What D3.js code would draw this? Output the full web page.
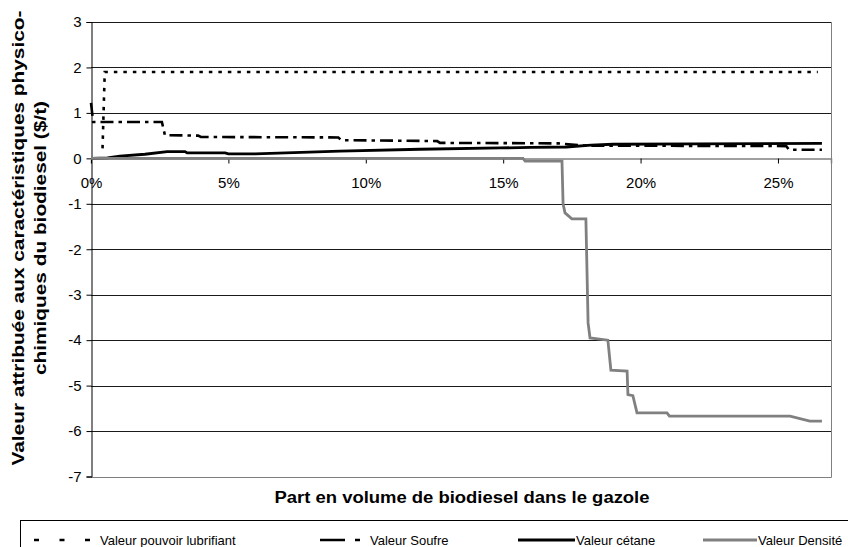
<!DOCTYPE html>
<html>
<head>
<meta charset="utf-8">
<script src="https://cdn.jsdelivr.net/npm/d3@7"></script>
<style>
  html, body { margin: 0; padding: 0; background: #fff; }
  svg { display: block; font-family: "Liberation Sans", Arial, sans-serif; }
</style>
</head>
<body>
<svg id="chart" width="848" height="547"></svg>
<script>
// Part en volume de biodiesel (%) et valeur attribuée ($/t), par caractéristique
const pctLubrifiant = [0.42, 0.5, 26.45];
const valLubrifiant = [0.22, 1.9, 1.9];

const pctSoufre = [0, 0.08, 2.58, 2.69, 3.9, 4.0, 9.0, 9.1, 12.6, 12.7, 17.0, 17.9, 25.3, 25.4, 26.6];
const valSoufre = [1.22, 0.8, 0.8, 0.51, 0.5, 0.47, 0.46, 0.4, 0.38, 0.34, 0.33, 0.28, 0.27, 0.19, 0.19];

const pctCetane = [0, 0.6, 1.05, 1.96, 2.77, 3.42, 3.5, 4.88, 5.0, 5.97, 9.06, 11.97, 14.9, 16.0, 17.3, 18.2, 19.0, 22.0, 26.6];
const valCetane = [0, 0.01, 0.05, 0.09, 0.15, 0.15, 0.12, 0.12, 0.1, 0.1, 0.16, 0.2, 0.23, 0.24, 0.25, 0.29, 0.31, 0.32, 0.33];

const pctDensite = [0, 15.72, 15.8, 17.14, 17.18, 17.25, 17.5, 18.01, 18.09, 18.16, 18.81, 18.92, 19.51, 19.54, 19.72, 19.87, 20.96, 21.05, 25.44, 26.16, 26.6];
const valDensite = [0, 0, -0.06, -0.06, -1.0, -1.2, -1.33, -1.33, -3.62, -3.95, -4.0, -4.66, -4.68, -5.2, -5.22, -5.6, -5.6, -5.67, -5.67, -5.78, -5.78];

const xTicks = [0, 5, 10, 15, 20, 25];
const yTicks = [3, 2, 1, 0, -1, -2, -3, -4, -5, -6, -7];

const seriesNames = ["Valeur pouvoir lubrifiant", "Valeur Soufre", "Valeur cétane", "Valeur Densité"];

const svg = d3.select("#chart");
const plotLeft = 91, plotRight = 831, plotTop = 22, plotBottom = 476.5;

const x = d3.scaleLinear().domain([0, 26.93]).range([plotLeft, plotRight]);
const y = d3.scaleLinear().domain([-7, 3]).range([plotBottom, plotTop]);

// horizontal gridlines
svg.append("g").selectAll("line").data(yTicks.filter(v => v !== 0 && v !== -7))
  .join("line")
  .attr("x1", plotLeft).attr("x2", plotRight)
  .attr("y1", d => Math.round(y(d)) + 0.5).attr("y2", d => Math.round(y(d)) + 0.5)
  .attr("stroke", "#1a1a1a").attr("stroke-width", 1);

// plot frame (right and bottom)
svg.append("path")
  .attr("d", `M${plotRight + 0.5},${plotTop}V${Math.round(plotBottom) + 0.5}H${plotLeft}`)
  .attr("fill", "none").attr("stroke", "#808080").attr("stroke-width", 1);

// y axis
const yAxis = d3.axisLeft(y).tickValues(yTicks).tickSize(5).tickPadding(5).tickFormat(d => String(d));
svg.append("g").attr("transform", `translate(${plotLeft + 0.5},0)`).call(yAxis)
  .call(g => g.select(".domain").attr("stroke", "#000"))
  .call(g => g.selectAll(".tick text").attr("font-size", 15).attr("fill", "#000").attr("font-family", "Liberation Sans, Arial, sans-serif"));

// x axis crossing at zero
const xAxis = d3.axisBottom(x).tickValues(xTicks).tickSize(5).tickPadding(14).tickFormat(d => d + "%");
svg.append("g").attr("transform", `translate(0,${Math.round(y(0)) + 0.5})`).call(xAxis)
  .call(g => g.select(".domain").attr("stroke", "#808080").attr("stroke-width", 1.5))
  .call(g => g.selectAll(".tick line").attr("stroke", "#000"))
  .call(g => g.selectAll(".tick text").attr("font-size", 15).attr("fill", "#000").attr("font-family", "Liberation Sans, Arial, sans-serif"));

const line = d3.line().x(d => x(d[0])).y(d => y(d[1]));
const zip = (a, b) => a.map((v, i) => [v, b[i]]);

const series = [
  { pts: zip(pctLubrifiant, valLubrifiant), color: "#000", dash: "3.5,6", width: 2.6 },
  { pts: zip(pctSoufre, valSoufre), color: "#000", dash: "13,5,3.5,5", width: 2.6 },
  { pts: zip(pctCetane, valCetane), color: "#000", dash: null, width: 2.8 },
  { pts: zip(pctDensite, valDensite), color: "#808080", dash: null, width: 2.8 }
];

svg.append("g").selectAll("path").data(series).join("path")
  .attr("d", d => line(d.pts))
  .attr("fill", "none")
  .attr("stroke", d => d.color)
  .attr("stroke-width", d => d.width)
  .attr("stroke-dasharray", d => d.dash)
  .attr("stroke-linejoin", "miter");

// axis titles
svg.append("text")
  .attr("x", 462).attr("y", 503)
  .attr("text-anchor", "middle")
  .attr("font-size", 16).attr("font-weight", "bold")
  .attr("textLength", 375).attr("lengthAdjust", "spacingAndGlyphs")
  .text("Part en volume de biodiesel dans le gazole");

const yTitle = svg.append("g").attr("transform", "translate(0,238) rotate(-90)");
yTitle.append("text")
  .attr("x", 0).attr("y", 24)
  .attr("text-anchor", "middle")
  .attr("font-size", 16).attr("font-weight", "bold")
  .attr("textLength", 455).attr("lengthAdjust", "spacingAndGlyphs")
  .text("Valeur attribuée aux caractéristiques physico-");
yTitle.append("text")
  .attr("x", 0).attr("y", 46)
  .attr("text-anchor", "middle")
  .attr("font-size", 16).attr("font-weight", "bold")
  .attr("textLength", 274).attr("lengthAdjust", "spacingAndGlyphs")
  .text("chimiques du biodiesel ($/t)");

// legend
const legend = svg.append("g");
legend.append("rect")
  .attr("x", 20.5).attr("y", 520.5).attr("width", 860).attr("height", 60)
  .attr("fill", "#fff").attr("stroke", "#000").attr("stroke-width", 1);

const legendItems = [
  { x0: 34, x1: 90, tx: 100, color: "#000", dash: "5,20.5", width: 2.6 },
  { x0: 320, x1: 362, tx: 370, color: "#000", dash: "25,10,5,100", width: 2.6 },
  { x0: 518, x1: 575, tx: 576, color: "#000", dash: null, width: 2.8 },
  { x0: 703, x1: 757, tx: 758, color: "#808080", dash: null, width: 2.8 }
];
const lg = legend.selectAll("g.item").data(legendItems).join("g").attr("class", "item");
lg.append("line")
  .attr("x1", d => d.x0).attr("x2", d => d.x1)
  .attr("y1", 540).attr("y2", 540)
  .attr("stroke", d => d.color).attr("stroke-width", d => d.width)
  .attr("stroke-dasharray", d => d.dash);
lg.append("text")
  .attr("x", d => d.tx).attr("y", 545)
  .attr("font-size", 13)
  .text((d, i) => seriesNames[i]);
</script>
</body>
</html>
